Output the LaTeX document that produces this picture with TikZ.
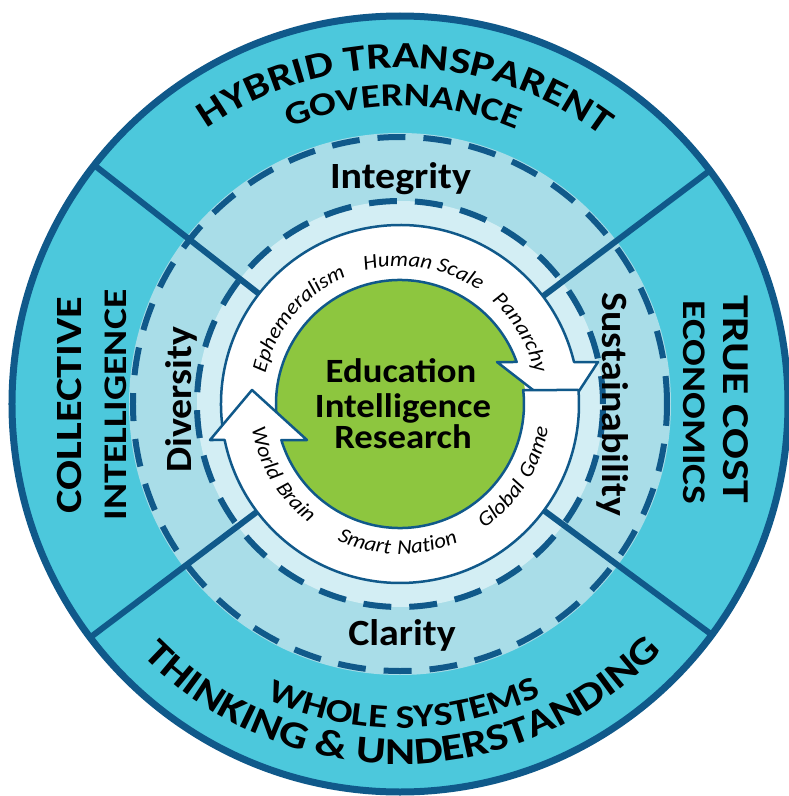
\documentclass[tikz,border=0pt]{standalone}
\usepackage{fontspec}
\setmainfont{Carlito}[FakeStretch=1.08]
\newfontfamily\capf{Carlito}[FakeStretch=1.2]
\usetikzlibrary{decorations.text}
\definecolor{outerc}{HTML}{4CC8DC}
\definecolor{ringone}{HTML}{A9DDE8}
\definecolor{ringtwo}{HTML}{D3EEF4}
\definecolor{dblue}{HTML}{10598A}
\definecolor{grn}{HTML}{8DC63F}
\newcommand\lblfont{\bfseries\fontsize{37}{40}\selectfont}
\newcommand\ctrfont{\bfseries\fontsize{34}{36}\selectfont}
\newcommand\ringfnt{\itshape\fontsize{21}{24}\selectfont}
\newcommand\capbig{\capf\bfseries\fontsize{37}{40}\selectfont}
\newcommand\capbigger{\capf\bfseries\fontsize{38}{41}\selectfont}
\newcommand\capsmall{\capf\bfseries\fontsize{33}{36}\selectfont}
\begin{document}
\begin{tikzpicture}[x=1pt,y=1pt,
  divider/.style={draw=dblue, line width=6pt},
  dashring/.style={draw=dblue, line width=6pt, dash pattern=on 28pt off 18pt},
  arrowband/.style={fill=white, draw=dblue, line width=2.5pt, line join=round},
  lbl/.style={font=\lblfont, text=black, inner sep=0pt},
  ctr/.style={font=\ctrfont, text=black, inner sep=0pt},
  capbign/.style={font=\capbig, text=black, inner sep=0pt},
  capbiggern/.style={font=\capbigger, text=black, inner sep=0pt},
  capsmalln/.style={font=\capsmall, text=black, inner sep=0pt},
  arctext/.style={decorate, decoration={text along path, text align=center, text={#1}}}
]
\fill[white] (-400,-392) rectangle (388,404);
\useasboundingbox (-400,-392) rectangle (388,404);
% rings
\fill[outerc] (0,0) circle[radius=388];
\fill[ringone] (0,0) circle[radius=271];
\fill[ringtwo] (0,0) circle[radius=203];
\draw[dashring] (0,0) circle[radius=267];
\draw[dashring] (0,0) circle[radius=203];
\foreach \a in {37,142,217,-36.5} \draw[divider] (\a:179) -- (\a:387);
\draw[draw=dblue, line width=7pt] (0,0) circle[radius=388];
% centre
\fill[white] (0,0) circle[radius=179];
\fill[grn] (0,-2) circle[radius=126];
% upper arrow (left -> over top -> right)
\draw[arrowband] (187.71:179) arc[start angle=187.71, end angle=13.57, radius=179]
  -- (198,42) -- (164,-10) -- (97,42) -- (19.8:124)
  arc[start angle=19.8, end angle=191.16, radius=124] -- cycle;
% lower arrow (right -> under bottom -> left)
\draw[arrowband] (4.49:179) arc[start angle=4.49, end angle=-168.4, radius=179]
  -- (-190,-36) -- (-148,14) -- (-93,-36) -- (-163.12:124)
  arc[start angle=-163.12, end angle=6.48, radius=124] -- cycle;
% ring words
\path[arctext={|\ringfnt|Ephemeralism}] (200:138) arc[start angle=200, end angle=80, radius=138];
\path[arctext={|\ringfnt|Human Scale}] (140:138) arc[start angle=140, end angle=20, radius=138];
\path[arctext={|\ringfnt|Panarchy}] (90.6:138) arc[start angle=90.6, end angle=-29.4, radius=138];
\path[arctext={|\ringfnt|World{\kern8pt}Brain}] (151:150) arc[start angle=151, end angle=271, radius=150];
\path[arctext={|\ringfnt|Smart{\kern7pt}Nation}] (209:150) arc[start angle=209, end angle=329, radius=150];
\path[arctext={|\ringfnt|Global{\kern8pt}Game}] (267.4:150) arc[start angle=267.4, end angle=387.4, radius=150];
% outer curved words
\path[arctext={|\capbig|HYBRID TRANSPARENT}] (149:336) arc[start angle=149, end angle=29, radius=336];
\path[arctext={|\capsmall|GOVERNANCE}] (149.4:298) arc[start angle=149.4, end angle=29.4, radius=298];
\path[arctext={|\capsmall|WHOLE SYSTEMS}] (-149.2:324) arc[start angle=-149.2, end angle=-29.2, radius=324];
\path[arctext={|\capbigger|THINKING {\&} UNDERSTANDING}] (-149.5:360) arc[start angle=-149.5, end angle=-29.5, radius=360];
% straight words
\node[capbign, rotate=90, anchor=base] (coll) at (-318,-1) {COLLECTIVE};
\node[capsmalln, rotate=90, anchor=base] (intel) at (-273,-1) {INTELLIGENCE};
\node[capbiggern, rotate=-90, anchor=base] (truec) at (323,5) {TRUE COST};
\node[capsmalln, rotate=-90, anchor=base] (econ) at (283,1.5) {ECONOMICS};
\node[lbl, anchor=base] (integ) at (0.5,216) {Integrity};
\node[lbl, anchor=base] (clar) at (2,-241) {Clarity};
\node[lbl, rotate=90, anchor=base] (divers) at (-208,4) {Diversity};
\node[lbl, rotate=-90, anchor=base] (sustain) at (203,0) {Sustainability};
\node[ctr, anchor=base] (edu) at (1,22) {Education};
\node[ctr, anchor=base] (intl) at (3,-13) {Intelligence};
\node[ctr, anchor=base] (res) at (3,-44) {Research};
\end{tikzpicture}
\end{document}
